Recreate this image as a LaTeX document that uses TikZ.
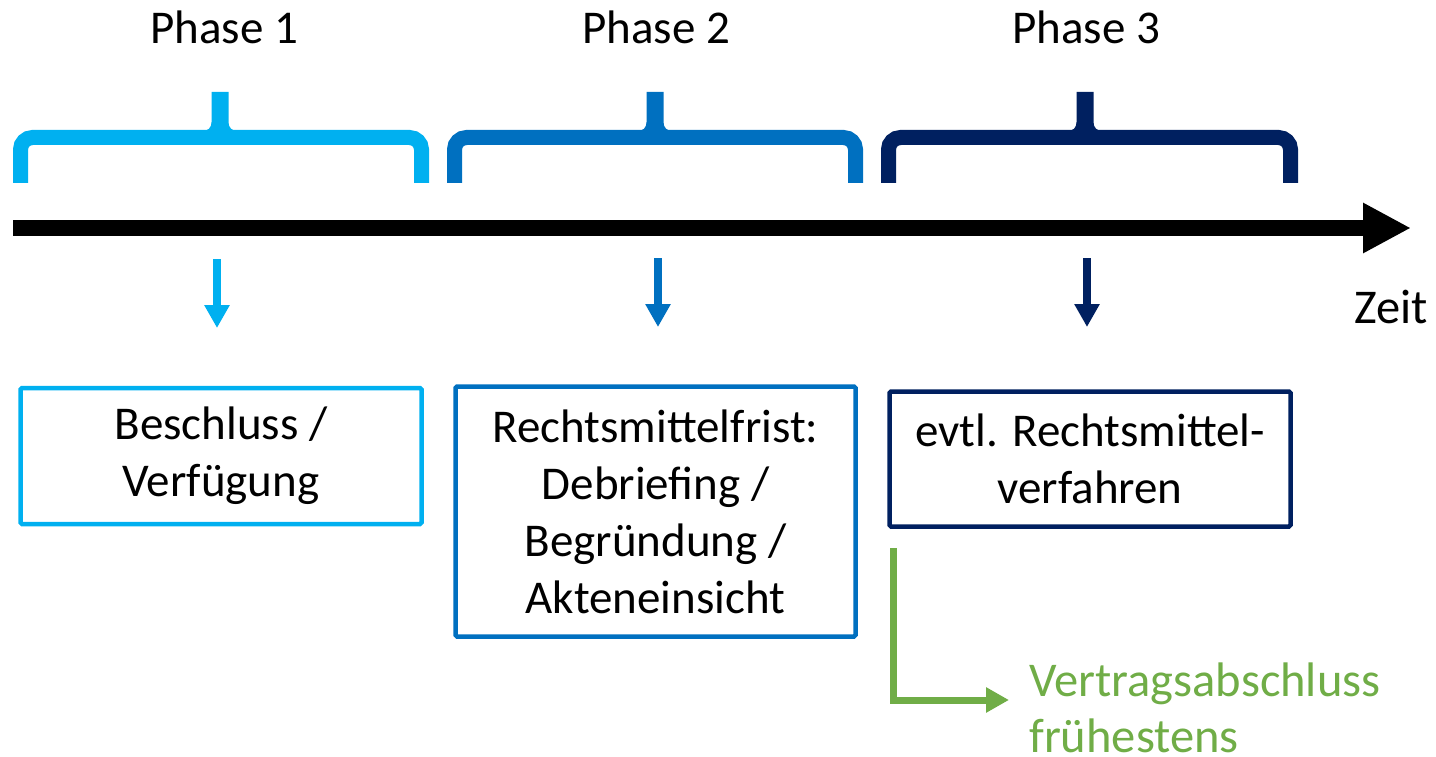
\documentclass[tikz,border=0pt]{standalone}
\usepackage{fontspec}
\setmainfont{Carlito}
\usetikzlibrary{arrows.meta}
\definecolor{pone}{HTML}{00B0F0}
\definecolor{ptwo}{HTML}{0070C0}
\definecolor{pthree}{HTML}{002060}
\definecolor{grn}{HTML}{70AD47}
\newcommand\phasebrace[4]{%
 \draw[#4, line width=15pt, rounded corners=12pt] (#1,183) -- (#1,137.5) -- (#2,137.5) -- (#2,183);
 \fill[#4] ({#3-8.5},92) -- ({#3+8.5},92) -- ({#3+8.5},122) .. controls ({#3+8.5},128) and ({#3+12},131) .. ({#3+18},131) -- ({#3-18},131) .. controls ({#3-12},131) and ({#3-8.5},128) .. ({#3-8.5},122) -- cycle;
}
\begin{document}
\begin{tikzpicture}[x=1pt,y=-1pt,
 lbl/.style={font=\fontsize{47}{57}\selectfont, inner sep=0pt},
 phasebox/.style={draw, line width=4.5pt, rounded corners=1.5pt, align=center, font=\fontsize{47}{57}\selectfont, inner sep=0pt},
 downarrow/.style={line width=8pt, -{Triangle[length=23pt,width=24pt]}},
]
\useasboundingbox (0,0) rectangle (1436,757);
% phase labels
\node[lbl, anchor=base] (ph1) at (224,44) {Phase 1};
\node[lbl, anchor=base] (ph2) at (656,44) {Phase 2};
\node[lbl, anchor=base] (ph3) at (1086,44) {Phase 3};
% braces
\phasebrace{20.5}{421.5}{220}{pone}
\phasebrace{454.5}{855.5}{655}{ptwo}
\phasebrace{888.5}{1290.5}{1085}{pthree}
% timeline
\coordinate (t0) at (13,228);
\coordinate (t1) at (1411,228);
\draw[line width=16pt, -{Triangle[length=48pt,width=47pt]}] (t0) -- (t1);
\node[lbl, font=\fontsize{48.5}{57}\selectfont, anchor=base] (zeit) at (1391,323) {Zeit};
% small arrows
\coordinate (a1s) at (217,259); \coordinate (a1e) at (217,328);
\coordinate (a2s) at (658,258); \coordinate (a2e) at (658,327);
\coordinate (a3s) at (1087,258); \coordinate (a3e) at (1087,327);
\draw[downarrow, pone] (a1s) -- (a1e);
\draw[downarrow, ptwo] (a2s) -- (a2e);
\draw[downarrow, pthree] (a3s) -- (a3e);
% boxes
\node[phasebox, draw=pone, minimum width=401pt, minimum height=136pt] (b1) at (221,456) {Beschluss /\\Verfügung};
\node[phasebox, draw=ptwo, minimum width=400pt, minimum height=250pt] (b2) at (655.5,511.5) {Rechtsmittelfrist:\\Debriefing /\\Begründung /\\Akteneinsicht};
\node[phasebox, draw=pthree, minimum width=401pt, minimum height=135pt] (b3) at (1090,459) {evtl. Rechtsmittel-\\verfahren};
% green connector
\coordinate (g0) at (893.5,548);
\coordinate (g1) at (1009,700);
\draw[grn, line width=7pt, -{Triangle[length=23pt,width=24pt]}] (g0) |- (g1);
\node[lbl, font=\fontsize{48.5}{56}\selectfont, text=grn, anchor=north west, align=left] (vt) at (1029,663) {Vertragsabschluss\\frühestens};
\end{tikzpicture}
\end{document}
